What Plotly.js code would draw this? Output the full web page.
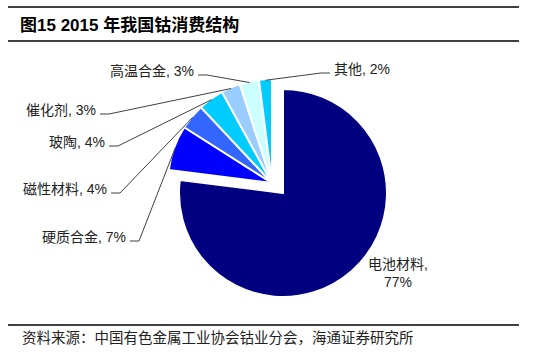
<!DOCTYPE html>
<html>
<head>
<meta charset="utf-8">
<script src="https://cdn.plot.ly/plotly-3.0.1.min.js"></script>
<style>html,body{margin:0;padding:0;background:#fff;}#chart{width:546px;height:361px;}</style>
</head>
<body>
<div id="chart"></div>
<script>
// ---- data ----
const categories = ['电池材料', '硬质合金', '磁性材料', '玻陶', '催化剂', '高温合金', '其他'];
const shares = [77, 7, 4, 4, 3, 3, 2];
const sliceColors = ['#000080', '#0000FF', '#3366FF', '#00CCFF', '#99CCFF', '#CCFFFF', '#00CCFF'];
const titleText = '图15 2015 年我国钴消费结构';
const sourceText = '资料来源：中国有色金属工业协会钴业分会，海通证券研究所';

// ---- layout helpers (pixel -> paper) ----
const W = 546, H = 361;
const px = x => x / W;
const py = y => 1 - y / H;
const FONT = 'Arial, "Liberation Sans", "Noto Sans CJK SC", sans-serif';

// pie geometry
const R = 104;
const mainC = [283, 193];   // centre of main slice pie
const groupC = [272, 183];  // centre of exploded group

function domainFor(c) {
  return { x: [px(c[0] - R), px(c[0] + R)], y: [py(c[1] + R), py(c[1] - R)] };
}

const total = shares.reduce((a, b) => a + b, 0);
const rest = total - shares[0];

const traceMain = {
  type: 'pie', sort: false, direction: 'clockwise', rotation: 0,
  values: [shares[0], rest], labels: [categories[0], 'rest'],
  marker: { colors: [sliceColors[0], 'rgba(0,0,0,0)'], line: { color: '#FFFFFF', width: [2, 0] } },
  textinfo: 'none', hoverinfo: 'skip', showlegend: false,
  domain: domainFor(mainC)
};
const traceGroup = {
  type: 'pie', sort: false, direction: 'clockwise', rotation: 0,
  values: shares, labels: categories,
  marker: { colors: sliceColors.map((c, i) => i === 0 ? 'rgba(0,0,0,0)' : c),
            line: { color: '#FFFFFF', width: shares.map((v, i) => i === 0 ? 0 : 2) } },
  textinfo: 'none', hoverinfo: 'skip', showlegend: false,
  domain: domainFor(groupC)
};

// label placement (pixels): [xEdge, yCenter, side]
const labelPos = {
  '硬质合金': [128, 237, 'L'],
  '磁性材料': [109, 189, 'L'],
  '玻陶': [107, 142, 'L'],
  '催化剂': [98, 110, 'L'],
  '高温合金': [196, 71, 'L'],
  '其他': [332, 69, 'R']
};

const shapes = [];
const annotations = [];
let cum = shares[0];
for (let i = 1; i < shares.length; i++) {
  const mid = (cum + shares[i] / 2) / total * 2 * Math.PI;
  cum += shares[i];
  const ax = groupC[0] + R * 0.99 * Math.sin(mid);
  const ay = groupC[1] - R * 0.99 * Math.cos(mid);
  const lp = labelPos[categories[i]];
  const ly = lp[1] + 4;
  let p;
  if (lp[2] === 'L') {
    p = [[lp[0] + 2, ly], [lp[0] + 11, ly], [ax, ay]];
  } else {
    p = [[lp[0] - 2, ly], [lp[0] - 11, ly], [ax, ay]];
  }
  shapes.push({
    type: 'path', xref: 'paper', yref: 'paper',
    path: 'M' + p.map(q => px(q[0]) + ',' + py(q[1])).join(' L'),
    line: { color: '#404040', width: 1 }
  });
  annotations.push({
    xref: 'paper', yref: 'paper', x: px(lp[0]), y: py(lp[1]),
    xanchor: lp[2] === 'L' ? 'right' : 'left', yanchor: 'middle',
    text: categories[i] + ', ' + shares[i] + '%', showarrow: false,
    font: { family: FONT, size: 14, color: '#222' }
  });
}
// main slice label
annotations.push({
  xref: 'paper', yref: 'paper', x: px(398), y: py(273), xanchor: 'center', yanchor: 'middle',
  text: categories[0] + ',<br>' + shares[0] + '%', showarrow: false, align: 'center',
  font: { family: FONT, size: 14, color: '#222' }
});
// source
annotations.push({
  xref: 'paper', yref: 'paper', x: px(20), y: py(338), xanchor: 'left', yanchor: 'middle',
  text: sourceText, showarrow: false,
  font: { family: FONT, size: 14.5, color: '#222' }
});

// rules
[7, 41, 325].forEach(y => shapes.push({
  type: 'line', xref: 'paper', yref: 'paper', x0: px(8), x1: px(519), y0: py(y), y1: py(y),
  line: { color: '#000', width: 1.5 }
}));

const layout = {
  width: W, height: H,
  margin: { l: 0, r: 0, t: 0, b: 0 },
  paper_bgcolor: '#fff', plot_bgcolor: '#fff',
  title: { text: '<b>' + titleText + '</b>', x: px(20), xanchor: 'left', xref: 'paper',
           y: py(25), yanchor: 'middle', yref: 'paper',
           font: { family: FONT, size: 17, color: '#000' } },
  shapes: shapes,
  annotations: annotations,
  showlegend: false
};

Plotly.newPlot('chart', [traceMain, traceGroup], layout, { staticPlot: true, displayModeBar: false });
</script>
</body>
</html>
